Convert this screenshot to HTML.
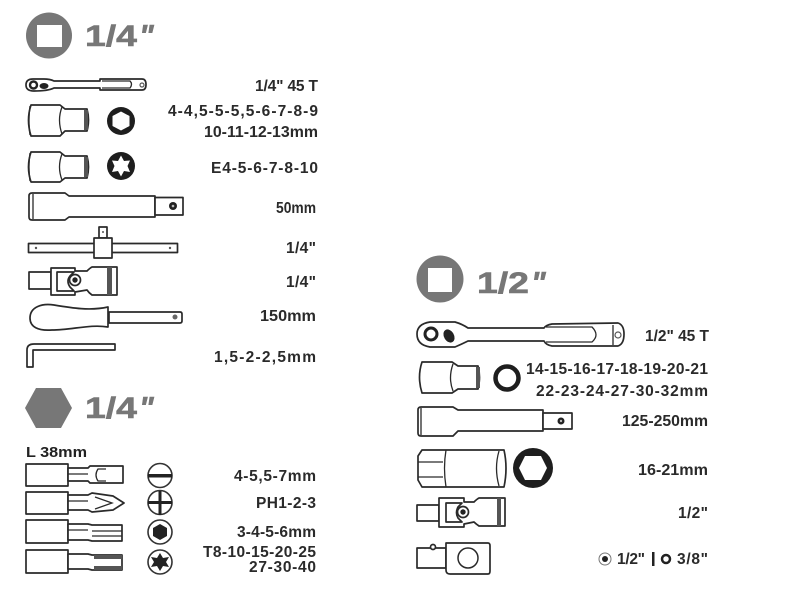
<!DOCTYPE html>
<html><head><meta charset="utf-8"><style>
html,body{margin:0;padding:0;background:#fff}
svg{display:block}
.t{font-family:"Liberation Sans",sans-serif;font-weight:bold;font-size:15.5px;fill:#2a2a2a;text-anchor:end}
.h{font-family:"Liberation Sans",sans-serif;font-weight:bold;font-size:30px;fill:#777;stroke:#777;stroke-width:.6}
.q{font-family:"Liberation Sans",sans-serif;font-weight:bold;font-style:italic;font-size:31px;fill:#777;stroke:#777;stroke-width:.6}
.o{fill:#fff;stroke:#2a2a2a;stroke-width:1.7;stroke-linejoin:round}
.n{fill:none;stroke:#2a2a2a;stroke-width:1.3}
.m{fill:none;stroke:#555;stroke-width:1.2}
</style></head><body>
<svg width="800" height="600" viewBox="0 0 800 600" xmlns="http://www.w3.org/2000/svg">
<rect width="800" height="600" fill="#fff"/>

<!-- Header 1/4 square -->
<circle cx="49" cy="35.500" r="23" fill="#777"/><rect x="37" y="25" width="25" height="22" fill="#fff"/>
<text class="h" x="85" y="46" textLength="52" lengthAdjust="spacingAndGlyphs">1/4</text>
<text class="q" x="139" y="46">"</text>

<!-- ratchet 1/4 -->
<path class="o" d="M33 79 H44 Q50 79 54 81 H100 V79 H142 Q146 79 146 84.500 Q146 90 142 90 H100 V88 H54 Q48 91 34 91 Q26 91 26 85 Q26 79 33 79Z"/>
<path class="n" d="M102 81 H130 Q133 84 130 88 H102"/>
<circle cx="33.500" cy="85" r="3.500" fill="#fff" stroke="#222" stroke-width="2.400"/>
<ellipse cx="44" cy="86" rx="4.500" ry="3" fill="#222"/><circle cx="142" cy="85" r="2" class="m"/>

<!-- socket 1 -->
<path class="o" d="M31 105 H60 L65 109 H87 Q90 120 87 131 H65 L60 136 H31 Q26 120 31 105Z"/>
<path class="n" d="M62 107 Q57 120 62 134 M30 106 Q28 120 30 135"/>
<rect x="84" y="110" width="4" height="20" fill="#555"/>
<circle cx="121" cy="121" r="14" fill="#1e1e1e"/>
<path d="M121 111.500 L129.500 116 V126 L121 130.500 L112.500 126 V116Z" fill="#fff"/>

<!-- socket 2 -->
<path class="o" d="M31 152 H60 L65 156 H87 Q90 167 87 178 H65 L60 182 H31 Q26 167 31 152Z"/>
<path class="n" d="M62 154 Q57 167 62 180 M30 153 Q28 167 30 181"/>
<rect x="84" y="157" width="4" height="20" fill="#555"/>
<circle cx="121" cy="166" r="14" fill="#1e1e1e"/>
<path d="M121 155.500 L124 161 L130 160.500 L127.500 166 L130 172 L124 171 L121 176.500 L118 171 L112 172 L114.500 166 L112 160.500 L118 161Z" fill="#fff"/>

<!-- extension -->
<path class="o" d="M32 193 H65 L69 196 H155 V217 H69 L65 220 H32 Q29 220 29 217 V196 Q29 193 32 193Z"/>
<path class="o" d="M155 197.500 H183 V215 H155Z"/>
<path class="n" d="M33 194 V219"/><circle cx="173" cy="206" r="4" fill="#222"/><circle cx="173" cy="206" r="1.300" fill="#bbb"/>

<!-- T bar -->
<rect class="o" x="28.500" y="243.500" width="149" height="9"/>
<rect class="o" x="99" y="227" width="8" height="11"/>
<rect class="o" x="94" y="238" width="18" height="20"/>
<circle cx="36" cy="248" r="1.200" fill="#555"/><circle cx="170" cy="248" r="1.200" fill="#555"/><circle cx="103" cy="232" r="1" fill="#555"/>

<!-- universal 1/4 -->
<g>
<rect class="o" x="29" y="272" width="22" height="17"/>
<path class="o" d="M51 268 H75 V271 L87 271 Q90 268 92 267 H117 V295 H92 Q89 293 87 290 L75 292 V295 H51Z"/>
<rect x="107" y="267" width="5" height="28" fill="#555"/>
<path class="o" d="M57 272 H74 L70 276 Q66 281 70 287 L74 291 H57Z"/>
<circle cx="75" cy="280" r="5.500" class="o"/><circle cx="75" cy="280" r="2.700" fill="#222"/>
</g>

<!-- screwdriver -->
<path class="o" d="M30 318 C30 307 42 303 54 305 C72 308 90 311 108 307 V327 C90 324 72 330 52 330 C38 331 30 327 30 318Z"/>
<path class="o" d="M109 312 H180 Q182 312 182 314 V321 Q182 323 180 323 H109Z"/>
<circle cx="175" cy="317" r="2.500" fill="#666"/>

<!-- hex key -->
<path class="o" d="M34 344 H115 V350 H33 V367 H27 V350 Q27 344 34 344Z"/>

<!-- Header hex -->
<path d="M36 388 H61 L72 408 L61 428 H36 L25 408Z" fill="#777"/>
<text class="h" x="85" y="418" textLength="52" lengthAdjust="spacingAndGlyphs">1/4</text>
<text class="q" x="139" y="418">"</text>
<text x="26" y="457" font-family="Liberation Sans, sans-serif" font-weight="bold" font-size="15" fill="#222" textLength="61" lengthAdjust="spacingAndGlyphs">L 38mm</text>

<!-- bits -->
<g>
<rect class="o" x="26" y="464" width="42" height="22"/>
<path class="o" d="M68 468 H88 L90 466 H123 V483 H90 L88 481 H68Z"/>
<path class="n" d="M68 474 H88 M106 469 H98 Q94 475 98 481 H106"/>
<circle cx="160" cy="475.500" r="12" fill="#fff" stroke="#333" stroke-width="1.600"/><rect x="148" y="474" width="24" height="3.500" fill="#222"/>

<rect class="o" x="26" y="492" width="42" height="22"/>
<path class="o" d="M68 495 H88 L92 493 L113 496 L124 503 L113 510 L92 512 L88 510 H68Z"/>
<path class="n" d="M68 501 H88 M95 497 L112 503 L95 509"/>
<circle cx="160" cy="502.500" r="12" fill="#fff" stroke="#333" stroke-width="1.600"/><rect x="148" y="501" width="24" height="3" fill="#222"/><rect x="158.500" y="491" width="3" height="24" fill="#222"/>

<rect class="o" x="26" y="520" width="42" height="23"/>
<path class="o" d="M68 524 H88 L92 525 H122 V541 H92 L88 540 H68Z"/>
<path class="n" d="M68 530 H88 M92 531 H122 M92 536 H122"/>
<circle cx="160" cy="532" r="12" fill="#fff" stroke="#333" stroke-width="1.600"/><path d="M160 524 L167 528 V536 L160 540 L153 536 V528Z" fill="#222"/>

<rect class="o" x="26" y="550" width="42" height="23"/>
<path class="o" d="M68 554 H88 L92 555 H122 V570 H92 L88 569 H68Z"/>
<path d="M94 555 H122 V559 H94Z M94 566 H122 V570 H94Z" fill="#555"/>
<circle cx="160" cy="562" r="12" fill="#fff" stroke="#333" stroke-width="1.600"/><path d="M160 553 L163 558 L169 557 L166 562 L169 567 L163 566 L160 571 L157 566 L151 567 L154 562 L151 557 L157 558Z" fill="#222"/>
</g>

<!-- Header 1/2 -->
<circle cx="440" cy="279" r="23.500" fill="#777"/><rect x="428" y="268" width="24" height="24" fill="#fff"/>
<text class="h" x="477" y="293" textLength="52" lengthAdjust="spacingAndGlyphs">1/2</text>
<text class="q" x="531" y="293">"</text>

<!-- ratchet 1/2 -->
<path class="o" d="M430 322 H455 Q462 324 468 328 H544 Q546 325 552 324 L618 323 Q624 325 624 334 Q624 344 618 346 L552 346 Q546 345 544 341 H468 Q462 344 455 347 H430 Q417 345 417 334 Q417 324 430 322Z"/>
<path class="n" d="M546 327 H592 Q600 335 592 342 H546 M613 325 V345"/>
<circle cx="431" cy="334" r="6" fill="#fff" stroke="#222" stroke-width="3"/>
<ellipse cx="449" cy="336" rx="5" ry="7" fill="#222" transform="rotate(-30 449 336)"/>
<circle cx="618" cy="335" r="3" class="m"/>

<!-- socket 1/2 -->
<path class="o" d="M422 362 H452 L458 366 H478 Q481 377 478 389 H458 L452 393 H422 Q417 377 422 362Z"/>
<path class="n" d="M453 364 Q448 378 453 391"/>
<rect x="476" y="367" width="4" height="21" fill="#555"/>
<circle cx="507" cy="378" r="11.500" fill="#fff" stroke="#1e1e1e" stroke-width="4.500"/>

<!-- extension 1/2 -->
<path class="o" d="M421 407 H453 L458 410 H543 V431 H458 L453 436 H421 Q418 436 418 433 V410 Q418 407 421 407Z"/>
<path class="o" d="M543 413 H572 V429 H543Z"/>
<path class="n" d="M421 408 V435"/><circle cx="561" cy="421" r="3.500" fill="#222"/><circle cx="561" cy="421" r="1.200" fill="#bbb"/>

<!-- deep socket -->
<path class="o" d="M422 450 H504 Q508 468 504 487 H422 L418 480 V456Z"/>
<path class="n" d="M446 450 Q443 468 446 487 M418 462 H443 M418 477 H443 M499 451 Q494 468 499 486"/>
<path d="M513 468 A20 20 0 0 1 553 468 A20 20 0 0 1 513 468Z M525 456 L519 468 L525 480 H541 L547 468 L541 456Z" fill="#1e1e1e" fill-rule="evenodd"/>

<!-- universal 1/2 -->
<rect class="o" x="417" y="505" width="22" height="16"/>
<path class="o" d="M439 498 H464 V502 L474 502 Q477 499 479 498 H505 V526 H479 Q476 524 474 522 L464 524 V527 H439Z"/>
<rect x="497" y="498" width="4" height="28" fill="#555"/>
<path class="o" d="M446 503 H462 L458 507 Q455 513 458 518 L462 522 H446Z"/>
<circle cx="463" cy="512" r="5.500" class="o"/><circle cx="463" cy="512" r="2.700" fill="#222"/>

<!-- adapter -->
<path class="o" d="M417 548 H446 V568 H417Z"/>
<path class="o" d="M446 543 H488 Q490 543 490 546 V571 Q490 574 488 574 H450 Q446 574 446 570Z"/>
<circle cx="468" cy="558" r="10" fill="#fff" stroke="#2a2a2a" stroke-width="1.500"/>
<circle cx="433" cy="547" r="2.500" class="o"/>

<!-- labels left -->
<text class="t" x="318" y="91" textLength="63">1/4" 45 T</text>
<text class="t" x="318" y="116" textLength="150">4-4,5-5-5,5-6-7-8-9</text>
<text class="t" x="318" y="137" textLength="114" lengthAdjust="spacingAndGlyphs">10-11-12-13mm</text>
<text class="t" x="318" y="173" textLength="107">E4-5-6-7-8-10</text>
<text class="t" x="316" y="213" textLength="40" lengthAdjust="spacingAndGlyphs">50mm</text>
<text class="t" x="316" y="253" textLength="30">1/4"</text>
<text class="t" x="316" y="287" textLength="30">1/4"</text>
<text class="t" x="316" y="321" textLength="56" lengthAdjust="spacingAndGlyphs">150mm</text>
<text class="t" x="316" y="362" textLength="102">1,5-2-2,5mm</text>
<text class="t" x="316" y="481" textLength="82">4-5,5-7mm</text>
<text class="t" x="316" y="508" textLength="60">PH1-2-3</text>
<text class="t" x="316" y="537" textLength="79">3-4-5-6mm</text>
<text class="t" x="316" y="557" textLength="113">T8-10-15-20-25</text>
<text class="t" x="316" y="572" textLength="67">27-30-40</text>

<!-- labels right -->
<text class="t" x="709" y="341" textLength="64">1/2" 45 T</text>
<text class="t" x="708" y="374" textLength="182">14-15-16-17-18-19-20-21</text>
<text class="t" x="708" y="396" textLength="172">22-23-24-27-30-32mm</text>
<text class="t" x="708" y="426" textLength="86" lengthAdjust="spacingAndGlyphs">125-250mm</text>
<text class="t" x="708" y="475" textLength="70" lengthAdjust="spacingAndGlyphs">16-21mm</text>
<text class="t" x="708" y="518" textLength="30">1/2"</text>
<circle cx="605" cy="559" r="6" fill="#fff" stroke="#777" stroke-width="1"/><circle cx="605" cy="559" r="3" fill="#222"/>
<text class="t" x="645" y="564" textLength="28">1/2"</text>
<rect x="652" y="552" width="2.500" height="14" fill="#222"/>
<circle cx="666" cy="559" r="4" fill="#fff" stroke="#222" stroke-width="2.500"/>
<text class="t" x="708" y="564" textLength="31">3/8"</text>
</svg>
</body></html>
